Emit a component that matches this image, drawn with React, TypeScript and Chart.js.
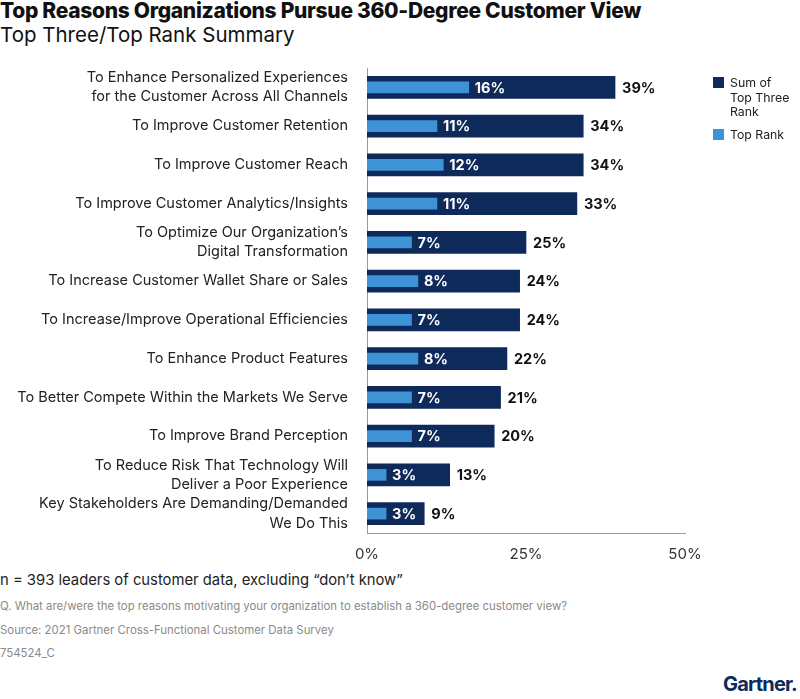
import React, { useEffect, useRef } from "react";
import { Chart, registerables } from "chart.js";

Chart.register(...registerables);

const categories: string[][] = [
  ["To Enhance Personalized Experiences", "for the Customer Across All Channels"],
  ["To Improve Customer Retention"],
  ["To Improve Customer Reach"],
  ["To Improve Customer Analytics/Insights"],
  ["To Optimize Our Organization\u2019s", "Digital Transformation"],
  ["To Increase Customer Wallet Share or Sales"],
  ["To Increase/Improve Operational Efficiencies"],
  ["To Enhance Product Features"],
  ["To Better Compete Within the Markets We Serve"],
  ["To Improve Brand Perception"],
  ["To Reduce Risk That Technology Will", "Deliver a Poor Experience"],
  ["Key Stakeholders Are Demanding/Demanded", "We Do This"],
];
const sumTopThree: number[] = [39, 34, 34, 33, 25, 24, 24, 22, 21, 20, 13, 9];
const topRank: number[] = [16, 11, 12, 11, 7, 8, 7, 8, 7, 7, 3, 3];
const xTicks: number[] = [0, 25, 50];
const seriesNames: string[] = ["Sum of Top Three Rank", "Top Rank"];

const DARK = "#0d2a5b";
const LIGHT = "#3d93d6";
const FONT = "Inter, 'Noto Sans', sans-serif";

const labelPlugin = {
  id: "valueLabels",
  afterDatasetsDraw(chart: any) {
    const ctx = chart.ctx;
    const darkMeta = chart.getDatasetMeta(0);
    const lightMeta = chart.getDatasetMeta(1);
    ctx.save();
    ctx.textBaseline = "middle";
    ctx.textAlign = "left";
    ctx.font = `bold 14.5px ${FONT}`;
    darkMeta.data.forEach((el: any, i: number) => {
      ctx.fillStyle = "#111111";
      ctx.fillText(sumTopThree[i] + "%", el.x + 7, el.y + 1);
    });
    lightMeta.data.forEach((el: any, i: number) => {
      ctx.fillStyle = "#ffffff";
      ctx.fillText(topRank[i] + "%", el.x + 6, el.y + 1);
    });
    ctx.restore();
  },
};

export default function App() {
  const ref = useRef<HTMLCanvasElement | null>(null);

  useEffect(() => {
    if (!ref.current) return;
    const chart = new Chart(ref.current, {
      type: "bar",
      data: {
        labels: categories,
        datasets: [
          {
            label: seriesNames[0],
            data: sumTopThree,
            backgroundColor: DARK,
            barThickness: 22,
            order: 1,
            grouped: false,
          } as any,
          {
            label: seriesNames[1],
            data: topRank,
            backgroundColor: LIGHT,
            barThickness: 11,
            order: 0,
            grouped: false,
          } as any,
        ],
      },
      options: {
        indexAxis: "y",
        animation: false,
        responsive: false,
        maintainAspectRatio: false,
        layout: { padding: { top: 8, right: 45, left: 0, bottom: 0 } },
        plugins: {
          legend: { display: false },
          tooltip: { enabled: false },
        },
        scales: {
          x: {
            min: 0,
            max: 50,
            afterBuildTicks: (scale: any) => {
              scale.ticks = xTicks.map((v) => ({ value: v }));
            },
            afterFit: (scale: any) => {
              scale.height = 37;
              scale.paddingLeft = 0;
              scale.paddingRight = 0;
            },
            grid: { display: false, drawTicks: false },
            border: { display: true, color: "#9a9a9a", width: 1 },
            ticks: {
              padding: 12,
              color: "#333333",
              font: { family: FONT, size: 15 },
              callback: (v: any) => v + "%",
            },
          },
          y: {
            afterFit: (scale: any) => {
              scale.width = 367;
              scale.paddingTop = 0;
              scale.paddingBottom = 0;
            },
            grid: { display: false, drawTicks: false },
            border: { display: true, color: "#9a9a9a", width: 1 },
            ticks: {
              padding: 19,
              color: "#222222",
              autoSkip: false,
              font: { family: FONT, size: 14.5, lineHeight: 1.34 },
            },
          },
        },
      },
      plugins: [labelPlugin],
    });
    return () => chart.destroy();
  }, []);

  return (
    <div
      style={{
        position: "absolute",
        left: 0,
        top: 0,
        width: 800,
        height: 699,
        background: "#ffffff",
        fontFamily: FONT,
        overflow: "hidden",
      }}
    >
      <div
        style={{
          position: "absolute",
          left: 0,
          top: -1,
          fontSize: 21,
          fontWeight: 800,
          color: "#111111",
          whiteSpace: "nowrap",
          letterSpacing: -0.3,
          lineHeight: "24px",
        }}
      >
        Top Reasons Organizations Pursue 360-Degree Customer View
      </div>
      <div
        style={{
          position: "absolute",
          left: 0,
          top: 22,
          fontSize: 20.5,
          fontWeight: 400,
          color: "#111111",
          whiteSpace: "nowrap",
          lineHeight: "26px",
        }}
      >
        Top Three/Top Rank Summary
      </div>
      <canvas
        ref={ref}
        width={730}
        height={510}
        style={{ position: "absolute", left: 0, top: 60, width: 730, height: 510 }}
      />
      <div style={{ position: "absolute", left: 713, top: 76, fontSize: 12.3, color: "#222222", lineHeight: "14.5px" }}>
        <div style={{ display: "flex", alignItems: "flex-start" }}>
          <div style={{ width: 11, height: 11, background: DARK, marginTop: 1, marginRight: 6 }} />
          <div>
            Sum of
            <br />
            Top Three
            <br />
            Rank
          </div>
        </div>
        <div style={{ display: "flex", alignItems: "flex-start", marginTop: 8 }}>
          <div style={{ width: 11, height: 11, background: LIGHT, marginTop: 1, marginRight: 6 }} />
          <div>Top Rank</div>
        </div>
      </div>
      <div style={{ position: "absolute", left: 0, top: 571, fontSize: 14.8, color: "#222222", whiteSpace: "nowrap" }}>
        n = 393 leaders of customer data, excluding {"\u201Cdon\u2019t know\u201D"}
      </div>
      <div style={{ position: "absolute", left: 0, top: 599, fontSize: 11.4, color: "#8a8a8a", whiteSpace: "nowrap" }}>
        Q. What are/were the top reasons motivating your organization to establish a 360-degree customer view?
      </div>
      <div style={{ position: "absolute", left: 0, top: 623, fontSize: 11.4, color: "#8a8a8a", whiteSpace: "nowrap" }}>
        Source: 2021 Gartner Cross-Functional Customer Data Survey
      </div>
      <div style={{ position: "absolute", left: 0, top: 646, fontSize: 11.4, color: "#8a8a8a", whiteSpace: "nowrap" }}>
        754524_C
      </div>
      <div
        style={{
          position: "absolute",
          right: 3,
          top: 672,
          fontSize: 20,
          fontWeight: 700,
          color: "#0d2a5b",
          letterSpacing: -0.8,
          whiteSpace: "nowrap",
        }}
      >
        Gartner.
      </div>
    </div>
  );
}
